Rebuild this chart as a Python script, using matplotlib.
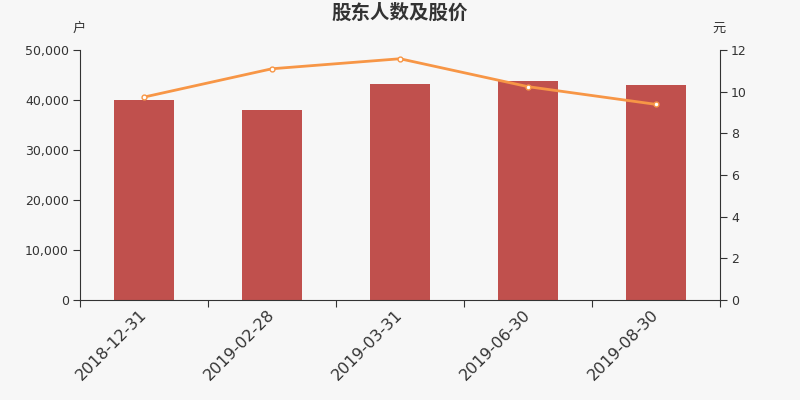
import matplotlib
matplotlib.use("Agg")
import matplotlib.pyplot as plt
import numpy as np

plt.rcParams['font.family'] = ['DejaVu Sans', 'Noto Sans CJK SC']

categories = ["2018-12-31", "2019-02-28", "2019-03-31", "2019-06-30", "2019-08-30"]
holders = [40000, 38100, 43200, 43900, 43050]
prices = [9.74, 11.10, 11.58, 10.24, 9.39]

bg = "#f7f7f7"
txt = "#333333"
cjk = ['Noto Sans CJK SC', 'DejaVu Sans']
fig = plt.figure(figsize=(8, 4), dpi=100, facecolor=bg)
ax = fig.add_axes([0.1, 0.25, 0.8, 0.625])
ax.set_facecolor(bg)
x = np.arange(len(categories))
ax.bar(x, holders, width=0.47, color="#c0504d", zorder=2)
ax.set_xlim(-0.5, len(categories) - 0.5)
ax.set_ylim(0, 50000)
ax.set_yticks(np.arange(0, 50001, 10000))
ax.set_yticklabels([f"{v:,}" for v in range(0, 50001, 10000)], fontsize=9, color=txt)
ax.set_xticks(np.arange(-0.5, len(categories)), minor=False)
ax.set_xticklabels([])
ax.set_xticks(x, minor=True)
ax.set_xticklabels(categories, minor=True, rotation=45, ha="right", va="center",
                   rotation_mode="anchor", fontsize=11.5, color=txt)
ax.tick_params(axis="x", which="minor", length=0, pad=9)
ax.tick_params(axis="x", which="major", length=5, color=txt)
ax.tick_params(axis="y", length=5, color=txt, pad=3)
for s in ["top", "right"]:
    ax.spines[s].set_visible(False)
ax.spines["left"].set_color(txt)
ax.spines["bottom"].set_color(txt)

ax2 = ax.twinx()
ax2.plot(x, prices, color="#f79646", lw=2, marker="o", markersize=3.5,
         markerfacecolor="white", markeredgecolor="#f79646", markeredgewidth=1, zorder=3)
ax2.set_ylim(0, 12)
ax2.set_yticks(np.arange(0, 13, 2))
ax2.tick_params(axis="y", length=5, color=txt, labelsize=9, labelcolor=txt, pad=3)
for s in ["top", "left", "bottom"]:
    ax2.spines[s].set_visible(False)
ax2.spines["right"].set_color(txt)

fig.text(0.5, 1 - 13.5 / 400, "股东人数及股价", ha="center", va="center", fontsize=14,
         fontweight="bold", color=txt, family=cjk)
fig.text(79 / 800, 1 - 28 / 400, "户", ha="center", va="center", fontsize=9.5, color=txt, family=cjk)
fig.text(719 / 800, 1 - 28 / 400, "元", ha="center", va="center", fontsize=9.5, color=txt, family=cjk)

fig.savefig("out.png", dpi=100, facecolor=bg)
